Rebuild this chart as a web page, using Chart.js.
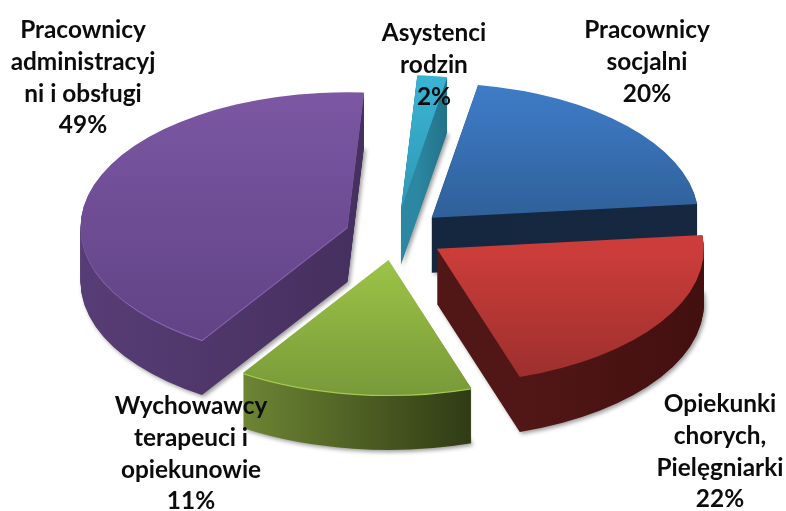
<!DOCTYPE html>
<html>
<head>
<meta charset="utf-8">
<style>html,body{margin:0;padding:0;background:#fff}#w{width:786px;height:511px}</style>
<script src="https://cdn.jsdelivr.net/npm/chart.js@4"></script>
</head>
<body>
<div id="w"><canvas id="c" width="786" height="511"></canvas></div>
<script>
// Printed labels, exactly as shown on the reference.
const categories = [
  ["Pracownicy","socjalni"],
  ["Opiekunki","chorych,","Pielęgniarki"],
  ["Wychowawcy","terapeuci i","opiekunowie"],
  ["Pracownicy","administracyj","ni i obsługi"],
  ["Asystenci","rodzin"]
];
const printedPercent = ["20%","22%","11%","49%","2%"];
// Slice sizes measured from the drawn wedge angles. The printed labels sum to 104%
// and do not match the drawn wedges (purple is about 42% of the circle, not 49%).
const sliceShare = [20.6,21.6,14.2,41.8,1.8];

const topColors  = [["#3f7dc9","#2f6099"],["#cc3d3a","#9a2f2d"],["#9dc347","#789a39"],["#7c57a3","#5e4183"],["#3ab4d4","#2f98b6"]];
const wallColors = [["#15263f","#16283f"],["#511716","#430f0f"],["#6d8534","#303b14"],["#573d75","#46305f"],["#2c87a2","#217288"]];
const rimColors  = [null,null,"#a3cb4e","#8a64b4",null];
const topSpans   = [[-1,0],[0,1],[0,1],[-1,1],[-1,0]];
const drawOrder  = [4,0,3,2,1];
const labelPos   = [[647,38],[720,412],[191,414],[83,38],[434,41]];
const lineGap = 31.8;
const center = {x:395,y:235}, squash = 0.505, explode = 50, depth = 55;

const pie3d = {
  id:'pie3d',
  beforeDatasetsDraw(chart){
    const ctx = chart.ctx, arcs = chart.getDatasetMeta(0).data;
    const place = (el,dy)=>{
      const mid = (el.startAngle+el.endAngle)/2;
      ctx.translate(center.x, center.y+dy);
      ctx.scale(1,squash);
      ctx.translate(Math.cos(mid)*explode-el.x, Math.sin(mid)*explode-el.y);
    };
    drawOrder.forEach(i=>{
      const el = arcs[i], R = el.outerRadius, orig = el.options;
      const wall = ctx.createLinearGradient(el.x-R,0,el.x+R,0);
      const minX = Math.min(...[el.startAngle,el.endAngle].map(a=>Math.cos(a)));
      const hasLeft = i===3 ? -1 : minX, hasRight = i===3 ? 0 : (i===1||i===0 ? 1 : Math.max(Math.cos(el.startAngle),Math.cos(el.endAngle)));
      wall.addColorStop((hasLeft+1)/2, wallColors[i][0]);
      wall.addColorStop(Math.max((hasRight+1)/2,(hasLeft+1)/2+0.001), wallColors[i][1]);
      const o = Object.create(orig); el.options = o;
      o.backgroundColor = wall;
      for(let d=depth;d>=1;d--){
        ctx.save();
        if(d===depth){ctx.shadowColor='rgba(0,0,0,0.4)';ctx.shadowBlur=4;ctx.shadowOffsetX=2;ctx.shadowOffsetY=2;}
        place(el,d);
        el.draw(ctx);
        ctx.restore();
      }
      if(rimColors[i]){
        o.backgroundColor = rimColors[i];
        ctx.save(); place(el,1.2); el.draw(ctx); ctx.restore();
      }
      const top = ctx.createLinearGradient(0,el.y+R*topSpans[i][0],0,el.y+R*topSpans[i][1]);
      top.addColorStop(0,topColors[i][0]); top.addColorStop(1,topColors[i][1]);
      o.backgroundColor = top;
      ctx.save(); place(el,0); el.draw(ctx); ctx.restore();
      el.options = orig;
    });
    return false;
  },
  afterDraw(chart){
    const ctx = chart.ctx;
    ctx.save();
    ctx.fillStyle='#0c0c0c';
    ctx.textAlign='center';
    ctx.textBaseline='alphabetic';
    ctx.font='bold 24.4px Lato';
    categories.forEach((lines,i)=>{
      const all = lines.concat(printedPercent[i]);
      all.forEach((t,k)=>ctx.fillText(t,labelPos[i][0],labelPos[i][1]+k*lineGap));
    });
    ctx.restore();
  }
};

new Chart(document.getElementById('c'),{
  type:'pie',
  data:{labels:categories.map(l=>l.join(' ')),datasets:[{data:sliceShare,borderWidth:0,radius:267,backgroundColor:topColors.map(c=>c[0])}]},
  options:{
    responsive:false,animation:false,rotation:10,
    layout:{padding:0},
    plugins:{legend:{display:false},tooltip:{enabled:false}}
  },
  plugins:[pie3d]
});
</script>
</body>
</html>
